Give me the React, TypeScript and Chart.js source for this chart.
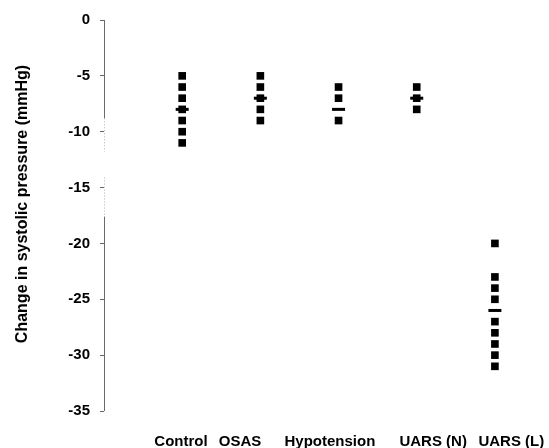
import React, { useEffect, useRef } from "react";
import { Chart, registerables } from "chart.js";

Chart.register(...registerables);

const categories = ["Control", "OSAS", "Hypotension", "UARS (N)", "UARS (L)"];
const controlValues = [-5, -6, -7, -8, -9, -10, -11];
const osasValues = [-5, -6, -7, -8, -9];
const hypotensionValues = [-6, -7, -9];
const uarsNValues = [-6, -7, -8];
const uarsLValues = [-20, -23, -24, -25, -27, -28, -29, -30, -31];
const meanValues = [-8, -7, -8, -7, -26];
const yTicks = [0, -5, -10, -15, -20, -25, -30, -35];
const yTitle = "Change in systolic pressure (mmHg)";

const groups = [controlValues, osasValues, hypotensionValues, uarsNValues, uarsLValues];
// horizontal placement of the category captions (in x-axis units)
const labelAnchors = [0.985, 1.74, 2.89, 4.21, 5.21];

const FONT = "'Liberation Sans', Arial, Helvetica, sans-serif";

const axisPlugin = {
  id: "customAxis",
  afterDraw(chart: any) {
    const { ctx, scales } = chart;
    const y = scales.y;
    const x0 = chart.chartArea.left + 0.5;
    const py = (v: number) => y.getPixelForValue(v);
    ctx.save();
    ctx.strokeStyle = "#6a6a6a";
    ctx.lineWidth = 1;
    ctx.beginPath();
    ctx.moveTo(x0, py(0));
    ctx.lineTo(x0, py(-8.8));
    ctx.moveTo(x0, py(-17.6));
    ctx.lineTo(x0, py(-35));
    ctx.stroke();
    ctx.strokeStyle = "#b0b0b0";
    ctx.setLineDash([1, 2]);
    ctx.beginPath();
    ctx.moveTo(x0, py(-8.8));
    ctx.lineTo(x0, py(-11.8));
    ctx.moveTo(x0, py(-14.1));
    ctx.lineTo(x0, py(-17.6));
    ctx.stroke();
    ctx.setLineDash([]);
    // y title
    ctx.translate(23, 204);
    ctx.rotate(-Math.PI / 2);
    ctx.fillStyle = "#000";
    ctx.font = `bold 16px ${FONT}`;
    ctx.textAlign = "center";
    ctx.textBaseline = "middle";
    ctx.fillText(yTitle, 0, 0);
    ctx.restore();
  },
};

export default function App() {
  const ref = useRef<HTMLCanvasElement>(null);
  useEffect(() => {
    if (!ref.current) return;
    const squares: { x: number; y: number }[] = [];
    groups.forEach((vals, i) => vals.forEach((v) => squares.push({ x: i + 1, y: v })));
    const means = meanValues.map((v, i) => ({ x: i + 1, y: v }));
    const chart = new Chart(ref.current, {
      type: "scatter",
      data: {
        datasets: [
          {
            data: squares,
            pointStyle: "rect",
            pointRadius: 5.4,
            pointHoverRadius: 5.4,
            backgroundColor: "#000",
            borderColor: "#000",
            borderWidth: 0,
          },
          {
            data: means,
            pointStyle: "line",
            pointRadius: 6.5,
            pointHoverRadius: 6.5,
            backgroundColor: "#000",
            borderColor: "#000",
            borderWidth: 3,
          },
        ],
      },
      plugins: [axisPlugin],
      options: {
        responsive: false,
        animation: false,
        layout: { padding: { top: 20, right: 15, left: 0, bottom: 0 } },
        plugins: { legend: { display: false }, tooltip: { enabled: false } },
        scales: {
          x: {
            type: "linear",
            min: 0,
            max: 5.5,
            border: { display: false },
            grid: { display: false, drawTicks: false },
            afterFit(scale: any) {
              scale.height = 37;
              scale.paddingLeft = 0;
              scale.paddingRight = 0;
            },
            afterBuildTicks(scale: any) {
              scale.ticks = labelAnchors.map((v) => ({ value: v }));
            },
            ticks: {
              autoSkip: false,
              maxRotation: 0,
              minRotation: 0,
              padding: 22,
              color: "#000",
              font: { family: FONT, size: 15, weight: "bold" },
              callback: (_v: any, i: number) => categories[i],
            },
          },
          y: {
            min: -35,
            max: 0,
            border: { display: false },
            grid: {
              drawOnChartArea: false,
              drawTicks: true,
              tickLength: 4,
              color: "#666",
            },
            afterFit(scale: any) {
              scale.width = 104;
              scale.paddingTop = 0;
              scale.paddingBottom = 0;
            },
            afterBuildTicks(scale: any) {
              scale.ticks = yTicks.map((v) => ({ value: v }));
            },
            ticks: {
              padding: 10,
              color: "#000",
              font: { family: FONT, size: 15, weight: "bold" },
              callback: (v: any) => String(v),
            },
          },
        },
      },
    });
    return () => chart.destroy();
  }, []);
  return (
    <div style={{ position: "absolute", left: 0, top: 0, width: 549, height: 448, background: "#fff" }}>
      <canvas ref={ref} width={549} height={448} />
    </div>
  );
}
